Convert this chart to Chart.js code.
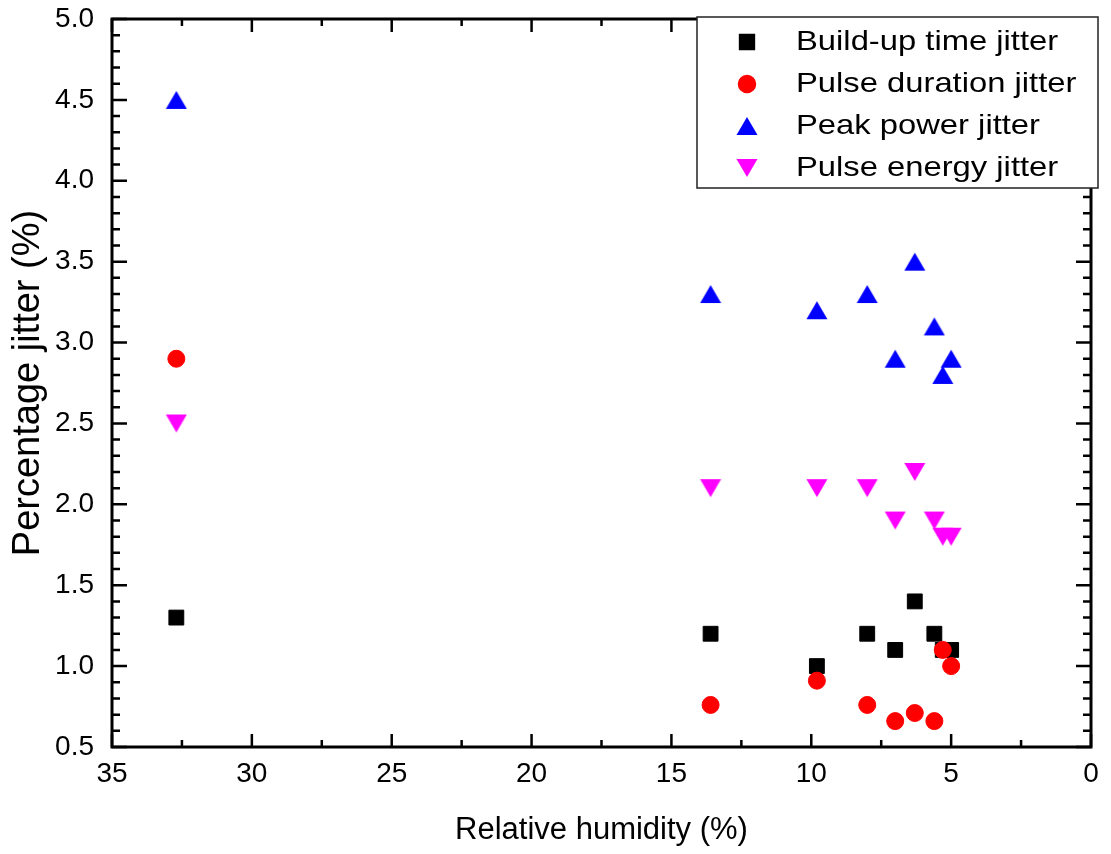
<!DOCTYPE html>
<html>
<head>
<meta charset="utf-8">
<title>Jitter vs relative humidity</title>
<script src="https://cdn.jsdelivr.net/npm/chart.js@4/dist/chart.umd.min.js"></script>
<style>
  html, body { margin: 0; padding: 0; background: #fff; }
  #jitterChart { display: block; }
</style>
</head>
<body>
<canvas id="jitterChart" width="1111" height="854"></canvas>
<script>
// relative humidity (%) for each measurement
const humidity = [32.7, 13.6, 9.8, 8.0, 7.0, 6.3, 5.6, 5.3, 5.0];

// jitter values (%)
const buildUpJitter = [1.3, 1.2, 1.0, 1.2, 1.1, 1.4, 1.2, 1.1, 1.1];
const durationJitter = [2.9, 0.76, 0.91, 0.76, 0.66, 0.71, 0.66, 1.1, 1.0];
const peakPowerJitter = [4.5, 3.3, 3.2, 3.3, 2.9, 3.5, 3.1, 2.8, 2.9];
const energyJitter = [2.5, 2.1, 2.1, 2.1, 1.9, 2.2, 1.9, 1.8, 1.8];

const seriesNames = ['Build-up time jitter', 'Pulse duration jitter', 'Peak power jitter', 'Pulse energy jitter'];

const xTicks = [35, 30, 25, 20, 15, 10, 5, 0];
const yTicks = [0.5, 1.0, 1.5, 2.0, 2.5, 3.0, 3.5, 4.0, 4.5, 5.0];

const FONT = "'Liberation Sans', Arial, Helvetica, sans-serif";

// triangle markers centred on their bounding box
function triangleMarker(color, down) {
  const c = document.createElement('canvas');
  c.width = 22;
  c.height = 20;
  const g = c.getContext('2d');
  g.fillStyle = color;
  g.beginPath();
  if (down) {
    g.moveTo(0.5, 1); g.lineTo(21.5, 1); g.lineTo(11, 19);
  } else {
    g.moveTo(11, 1); g.lineTo(21.5, 19); g.lineTo(0.5, 19);
  }
  g.closePath();
  g.fill();
  return c;
}

const toPoints = (ys) => humidity.map((h, i) => ({ x: h, y: ys[i] }));

const datasets = [
  {
    label: seriesNames[0],
    data: toPoints(buildUpJitter),
    pointStyle: 'rect',
    pointRadius: 10.5,
    backgroundColor: '#000000',
    borderColor: '#000000',
    borderWidth: 1,
    order: 4
  },
  {
    label: seriesNames[1],
    data: toPoints(durationJitter),
    pointStyle: 'circle',
    pointRadius: 8.5,
    backgroundColor: '#ff0000',
    borderColor: '#ff0000',
    borderWidth: 1,
    order: 3
  },
  {
    label: seriesNames[2],
    data: toPoints(peakPowerJitter),
    pointStyle: triangleMarker('#0000ff', false),
    backgroundColor: '#0000ff',
    borderColor: '#0000ff',
    order: 2
  },
  {
    label: seriesNames[3],
    data: toPoints(energyJitter),
    pointStyle: triangleMarker('#ff00ff', true),
    backgroundColor: '#ff00ff',
    borderColor: '#ff00ff',
    order: 1
  }
];

// box frame with inward ticks on all four sides
const frameTicks = {
  id: 'frameTicks',
  afterDatasetsDraw(chart) {
    const ctx = chart.ctx;
    const xs = chart.scales.x;
    const ys = chart.scales.y;
    const a = chart.chartArea;
    ctx.save();
    ctx.strokeStyle = '#000';
    ctx.lineWidth = 2.5;
    ctx.beginPath();
    for (let v = 0; v <= 35.001; v += 2.5) {
      const px = xs.getPixelForValue(v);
      const len = Math.abs(v % 5) < 0.01 ? 13 : 7;
      ctx.moveTo(px, a.bottom); ctx.lineTo(px, a.bottom - len);
      ctx.moveTo(px, a.top); ctx.lineTo(px, a.top + len);
    }
    for (let k = 5; k <= 50; k++) {
      const py = ys.getPixelForValue(k / 10);
      const len = k % 5 === 0 ? 15 : 8;
      ctx.moveTo(a.left, py); ctx.lineTo(a.left + len, py);
      ctx.moveTo(a.right, py); ctx.lineTo(a.right - len, py);
    }
    ctx.stroke();
    ctx.lineWidth = 3;
    ctx.strokeRect(a.left, a.top, a.right - a.left, a.bottom - a.top);
    ctx.restore();
  }
};

// legend box drawn over the upper right corner
const boxLegend = {
  id: 'boxLegend',
  afterDraw(chart) {
    const ctx = chart.ctx;
    const bx = 697, by = 17, bw = 401, bh = 171;
    ctx.save();
    ctx.fillStyle = '#fff';
    ctx.fillRect(bx, by, bw, bh);
    ctx.strokeStyle = '#222';
    ctx.lineWidth = 1.5;
    ctx.strokeRect(bx, by, bw, bh);
    chart.data.datasets.forEach((ds, i) => {
      const cy = 42 + i * 42;
      ctx.fillStyle = ds.backgroundColor;
      ctx.strokeStyle = ds.borderColor;
      Chart.helpers.drawPoint(ctx, {
        pointStyle: ds.pointStyle,
        radius: ds.pointRadius || 9,
        borderWidth: ds.borderWidth || 0,
        rotation: 0
      }, 747, cy);
      ctx.save();
      ctx.translate(796, cy + 8);
      ctx.scale(1.17, 1);
      ctx.fillStyle = '#000';
      ctx.font = '28px ' + FONT;
      ctx.textBaseline = 'alphabetic';
      ctx.textAlign = 'left';
      ctx.fillText(ds.label, 0, 0);
      ctx.restore();
    });
    ctx.restore();
  }
};

new Chart(document.getElementById('jitterChart'), {
  type: 'scatter',
  data: { datasets: datasets },
  options: {
    responsive: false,
    animation: false,
    devicePixelRatio: 1,
    layout: { padding: { top: 19, right: 20, left: 0, bottom: 0 } },
    plugins: {
      legend: { display: false },
      tooltip: { enabled: false }
    },
    scales: {
      x: {
        type: 'linear',
        reverse: true,
        min: 0,
        max: 35,
        afterBuildTicks: (scale) => { scale.ticks = xTicks.map(v => ({ value: v })); },
        afterFit: (scale) => { scale.height = 107; },
        grid: { display: false, drawTicks: false },
        border: { display: false },
        ticks: {
          color: '#000',
          padding: 10,
          maxRotation: 0,
          font: { family: FONT, size: 28 }
        },
        title: {
          display: true,
          text: 'Relative humidity (%)',
          color: '#000',
          padding: { top: 0, bottom: 5 },
          font: { family: FONT, size: 31 }
        }
      },
      y: {
        type: 'linear',
        min: 0.5,
        max: 5.0,
        afterBuildTicks: (scale) => { scale.ticks = yTicks.map(v => ({ value: v })); },
        afterFit: (scale) => { scale.width = 112; },
        grid: { display: false, drawTicks: false },
        border: { display: false },
        ticks: {
          color: '#000',
          padding: 18,
          // tiny line height keeps the label overhang from pushing the plot down
          font: { family: FONT, size: 28, lineHeight: 0.02 },
          callback: (v) => Number(v).toFixed(1)
        },
        title: {
          display: true,
          text: 'Percentage jitter (%)',
          color: '#000',
          padding: { top: 6, bottom: 0 },
          font: { family: FONT, size: 38 }
        }
      }
    }
  },
  plugins: [frameTicks, boxLegend]
});
</script>
</body>
</html>
